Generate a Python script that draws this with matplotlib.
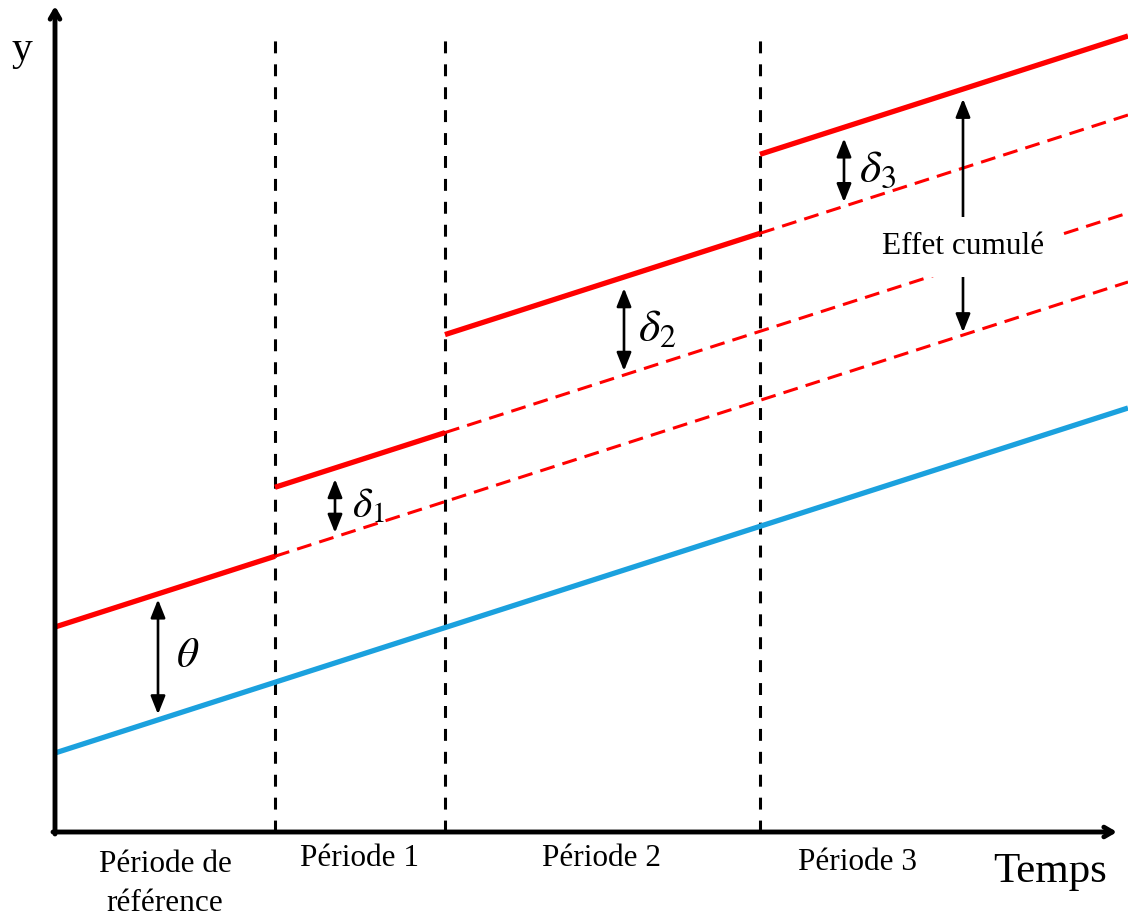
import matplotlib
matplotlib.use("Agg")
import matplotlib.pyplot as plt
import numpy as np

# period boundaries along the time axis (last value = right end of the lines)
bounds = [0.0, 2.2, 3.9, 7.05, 10.73]
period_labels = ["Période de\nréférence", "Période 1", "Période 2", "Période 3"]
label_x = [1.1, 3.05, 5.47, 8.03]
label_y = [-0.52, -0.26, -0.26, -0.30]

# control group (blue) line: value at t=0 and at the right end
control_y = [0.79, 4.24]
theta = 1.26
deltas = [0.69, 0.98, 0.79]
delta_names = [r"$\delta_1$", r"$\delta_2$", r"$\delta_3$"]

# where the double arrows sit on the time axis
theta_arrow_t = 1.03
delta_arrow_t = [2.8, 5.69, 7.89]
cumul_arrow_t = 9.08

RED = "#FF0000"
BLUE = "#1BA1DE"

plt.rcParams["font.family"] = ["Liberation Serif", "DejaVu Serif"]
plt.rcParams["mathtext.fontset"] = "stix"

fig = plt.figure(figsize=(11.28, 9.17), dpi=100)
ax = fig.add_axes([0, 0, 1, 1])
ax.set_xlim(-0.55, 10.73)
ax.set_ylim(-0.85, 8.32)
ax.axis("off")

slope = (control_y[1] - control_y[0]) / (bounds[-1] - bounds[0])


def line_at(t, start):
    return start + slope * np.asarray(t)


t_all = np.array([bounds[0], bounds[-1]])
ax.plot(t_all, line_at(t_all, control_y[0]), color=BLUE, lw=3.8, solid_capstyle="butt", zorder=3)

# treated group: a jump at the start of each period, dashed continuation of each level
levels = [control_y[0] + theta]
for d in deltas:
    levels.append(levels[-1] + d)

for i, lev in enumerate(levels):
    t_solid = np.array([bounds[i], bounds[i + 1]])
    ax.plot(t_solid, line_at(t_solid, lev), color=RED, lw=3.8, solid_capstyle="butt", zorder=3)
    if i < len(levels) - 1:
        t_dash = np.array([bounds[i + 1], bounds[-1]])
        ax.plot(t_dash, line_at(t_dash, lev), color=RED, lw=2.2, dashes=(4.9, 2.7), zorder=2)

# vertical period separators
for b in bounds[1:4]:
    ax.plot([b, b], [0, 7.96], color="black", lw=2.2, dashes=(3.9, 3.6), zorder=1)

# axes with arrow heads
ax.annotate("", xy=(10.62, 0), xytext=(-0.02, 0),
            arrowprops=dict(arrowstyle="->,head_length=0.6,head_width=0.35", lw=3.5, color="black",
                            shrinkA=0, shrinkB=0), zorder=4)
ax.annotate("", xy=(0, 8.26), xytext=(0, -0.02),
            arrowprops=dict(arrowstyle="->,head_length=0.6,head_width=0.35", lw=3.5, color="black",
                            shrinkA=0, shrinkB=0), zorder=4)


def double_arrow(t, low, high, shrink_low=2, shrink_high=4):
    ax.annotate("", xy=(t, high), xytext=(t, low),
                arrowprops=dict(arrowstyle="<|-|>,head_length=0.55,head_width=0.22", lw=1.9,
                                color="black", shrinkA=shrink_low, shrinkB=shrink_high,
                                mutation_scale=20), zorder=5)


# theta
lo = line_at(theta_arrow_t, control_y[0])
hi = line_at(theta_arrow_t, levels[0])
double_arrow(theta_arrow_t, lo, hi, 4, 4)
ax.annotate(r"$\theta$", xy=(theta_arrow_t, (lo + hi) / 2), xytext=(21, 0),
            textcoords="offset points", ha="center", va="center", fontsize=31)

# deltas
for i, t in enumerate(delta_arrow_t):
    lo = line_at(t, levels[i])
    hi = line_at(t, levels[i + 1])
    double_arrow(t, lo, hi, 3, 8)
    size = 30 if i == 0 else 33
    ax.annotate(delta_names[i], xy=(t, (lo + hi) / 2), xytext=(24, -3),
                textcoords="offset points", ha="center", va="center", fontsize=size)

# cumulative effect
lo = line_at(cumul_arrow_t, levels[0])
hi = line_at(cumul_arrow_t, levels[-1])
double_arrow(cumul_arrow_t, lo, hi, 2, 7)
ax.text(cumul_arrow_t, 5.85, "Effet cumulé", ha="center", va="center", fontsize=22.5, zorder=6,
        bbox=dict(boxstyle="square,pad=0.5", facecolor="white", edgecolor="none"))

for lab, x, y in zip(period_labels, label_x, label_y):
    ax.text(x, y, lab, ha="center", va="center", fontsize=22.5, linespacing=1.45)

ax.text(9.95, -0.40, "Temps", ha="center", va="center", fontsize=31)
ax.text(-0.33, 7.82, "y", ha="center", va="center", fontsize=30)

fig.savefig("out.png", dpi=100)
